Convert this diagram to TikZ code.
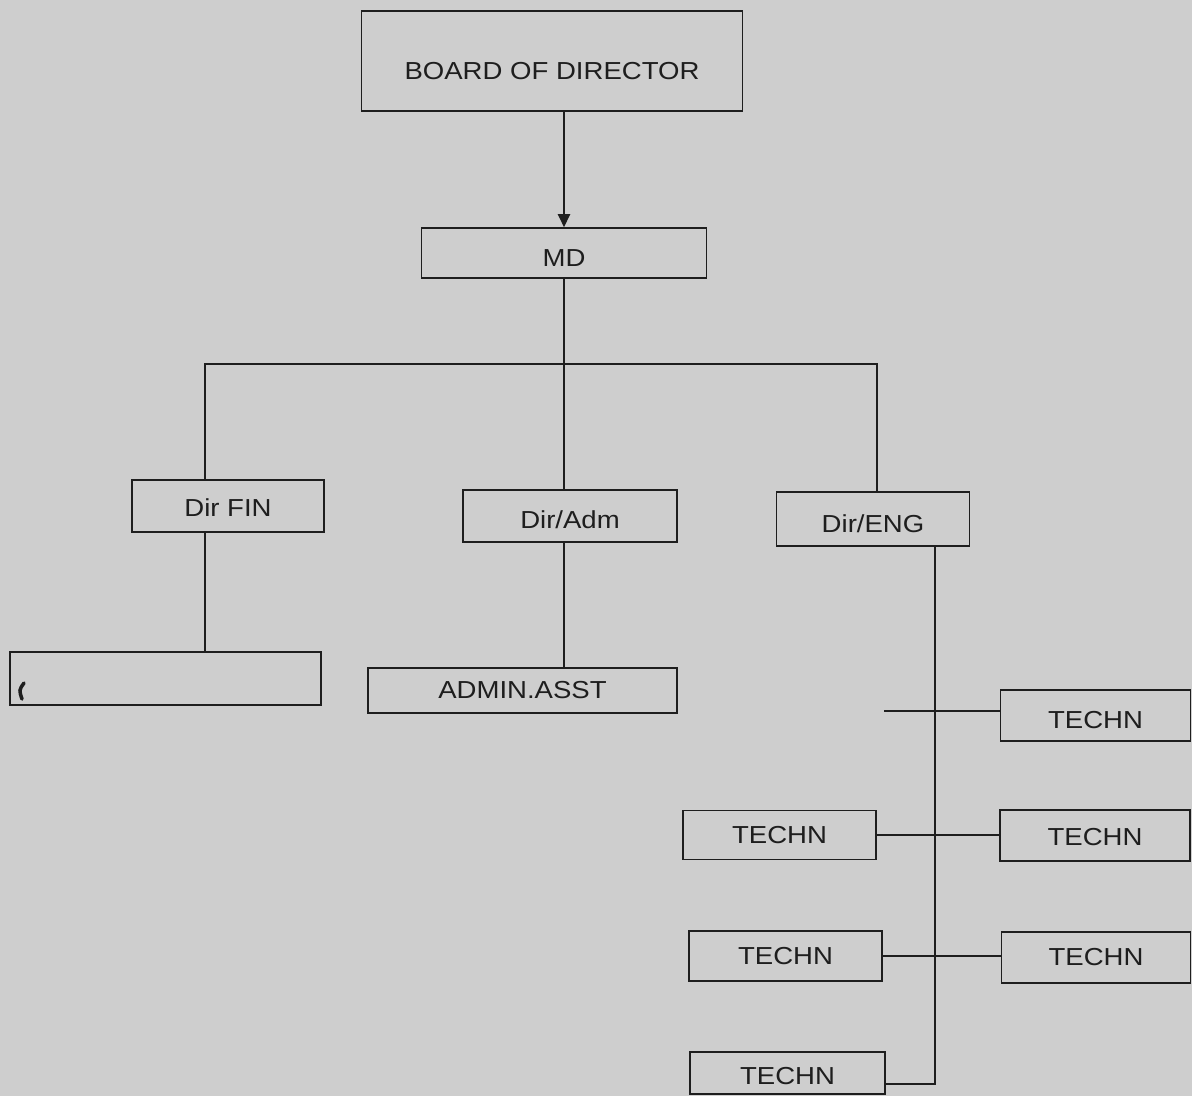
\documentclass[tikz,border=0pt]{standalone}
\usepackage{fontspec}
\setmainfont{Liberation Sans}[FakeStretch=1.12]
\usetikzlibrary{arrows.meta}
\definecolor{paper}{RGB}{206,206,206}
\definecolor{ink}{RGB}{30,30,30}
\newcommand{\lowtxt}[2]{\raisebox{-#1}[\height][\depth]{#2}}
\begin{document}
\begin{tikzpicture}[x=0.02cm,y=-0.02cm,
  box/.style={draw=ink,line width=0.9pt,rectangle,inner sep=0pt,
    font=\fontsize{14pt}{16pt}\selectfont,text=ink},
  conn/.style={draw=ink,line width=0.9pt}]
\fill[paper] (0,0) rectangle (1192,1096);
\useasboundingbox (0,0) rectangle (1192,1096);
\node[box,minimum width=7.62cm,minimum height=2.0cm] (bod) at (552,61) {\lowtxt{0.2cm}{BOARD OF DIRECTOR}};
\node[box,minimum width=5.7cm,minimum height=1.0cm] (md) at (564,253) {\lowtxt{0.1cm}{MD}};
\node[box,minimum width=3.84cm,minimum height=1.04cm] (fin) at (228,506) {\lowtxt{0.04cm}{Dir FIN}};
\node[box,minimum width=4.28cm,minimum height=1.04cm] (adm) at (570,516) {\lowtxt{0.08cm}{Dir/Adm}};
\node[box,minimum width=3.86cm,minimum height=1.08cm] (eng) at (873,519) {\lowtxt{0.1cm}{Dir/ENG}};
\node[box,minimum width=6.22cm,minimum height=1.06cm] (blank) at (165.5,678.5) {};
\node[box,minimum width=6.18cm,minimum height=0.9cm] (asst) at (522.5,690.5) {ADMIN.ASST};
\node[box,minimum width=3.8cm,minimum height=1.02cm] (t1) at (1095.5,715.5) {\lowtxt{0.1cm}{TECHN}};
\node[box,minimum width=3.8cm,minimum height=1.02cm] (t2) at (1095,835.5) {\lowtxt{0.04cm}{TECHN}};
\node[box,minimum width=3.86cm,minimum height=0.98cm] (t3) at (779.5,835) {TECHN};
\node[box,minimum width=3.86cm,minimum height=1.0cm] (t4) at (785.5,956) {TECHN};
\node[box,minimum width=3.78cm,minimum height=1.02cm] (t5) at (1096,957.5) {TECHN};
\node[box,minimum width=3.9cm,minimum height=0.84cm] (t6) at (787.5,1073) {\lowtxt{0.06cm}{TECHN}};
% stray pen mark
\draw[ink,line width=2pt,line cap=round] (24,683) .. controls (19,690) .. (22,699);
% connectors
\draw[conn,-{Triangle[length=7.5pt,width=7pt]}] (bod.south -| md.south) -- (md.north);
\coordinate (bl) at (205,364);
\coordinate (br) at (877,364);
\draw[conn] (fin.north -| bl) -- (bl) -- (br) -- (eng.north -| br);
\draw[conn] (md.south) -- (md.south |- adm.north);
\draw[conn] (fin.south -| bl) -- (bl |- blank.north);
\draw[conn] (adm.south -| md.south) -- (md.south |- asst.north);
\coordinate (vb) at (935,1084);
\draw[conn] (eng.south -| vb) -- (vb) -- (vb -| t6.east);
\coordinate (tf) at (884,711);
\draw[conn] (tf) -- (tf -| t1.west);
\draw[conn] (t3.east) -- (t3.east -| t2.west);
\draw[conn] (t4.east) -- (t4.east -| t5.west);
\end{tikzpicture}
\end{document}
